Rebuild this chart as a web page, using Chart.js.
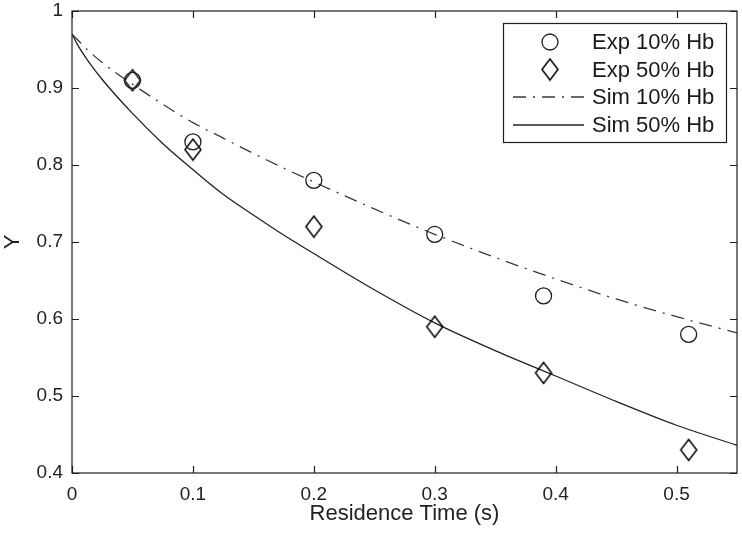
<!DOCTYPE html>
<html>
<head>
<meta charset="utf-8">
<script src="https://cdn.jsdelivr.net/npm/chart.js@4"></script>
<style>
  body { margin: 0; background: #fff; }
  canvas { display: block; }
</style>
</head>
<body>
<canvas id="chart" width="742" height="534"></canvas>
<script>
// simulated curves
const simTime = [0, 0.005, 0.0125, 0.025, 0.05, 0.075, 0.1, 0.125, 0.15, 0.175, 0.2, 0.25, 0.3, 0.35, 0.4, 0.45, 0.5, 0.55];
const sim10 = [0.97, 0.962, 0.95, 0.933, 0.905, 0.879, 0.855, 0.835, 0.815, 0.796, 0.778, 0.743, 0.71, 0.68, 0.652, 0.626, 0.603, 0.582];
const sim50 = [0.97, 0.955, 0.937, 0.911, 0.867, 0.828, 0.794, 0.762, 0.735, 0.709, 0.685, 0.638, 0.595, 0.559, 0.526, 0.493, 0.462, 0.436];

// experimental points
const expTime = [0.05, 0.1, 0.2, 0.3, 0.39, 0.51];
const exp10 = [0.91, 0.83, 0.78, 0.71, 0.63, 0.58];
const exp50 = [0.91, 0.82, 0.72, 0.59, 0.53, 0.43];

const xTicks = [0, 0.1, 0.2, 0.3, 0.4, 0.5];
const yTicks = [0.4, 0.5, 0.6, 0.7, 0.8, 0.9, 1];

const FONT = "'Liberation Sans', Arial, sans-serif";
const INK = "#1e1e1e";

function pairs(xs, ys) {
  return xs.map((x, i) => ({ x: x, y: ys[i] }));
}

// matlab style diamond, a bit taller than wide
function diamond() {
  const c = document.createElement("canvas");
  c.width = 20;
  c.height = 24;
  const g = c.getContext("2d");
  g.strokeStyle = "#000";
  g.lineWidth = 1.5;
  g.beginPath();
  g.moveTo(10, 1.5);
  g.lineTo(18, 12);
  g.lineTo(10, 22.5);
  g.lineTo(2, 12);
  g.closePath();
  g.stroke();
  return c;
}
const diamondImg = diamond();

// box, inner ticks and legend drawn like the matlab figure
const frame = {
  id: "frame",
  afterDatasetsDraw(chart) {
    const { ctx, chartArea: a, scales } = chart;
    ctx.save();
    ctx.strokeStyle = INK;
    ctx.lineWidth = 1.2;
    ctx.strokeRect(a.left, a.top, a.right - a.left, a.bottom - a.top);
    const t = 7;
    ctx.beginPath();
    xTicks.forEach((v) => {
      const px = Math.round(scales.x.getPixelForValue(v)) + 0.5;
      ctx.moveTo(px, a.bottom);
      ctx.lineTo(px, a.bottom - t);
      ctx.moveTo(px, a.top);
      ctx.lineTo(px, a.top + t);
    });
    yTicks.forEach((v) => {
      const py = Math.round(scales.y.getPixelForValue(v)) + 0.5;
      ctx.moveTo(a.left, py);
      ctx.lineTo(a.left + t, py);
      ctx.moveTo(a.right, py);
      ctx.lineTo(a.right - t, py);
    });
    ctx.stroke();

    // legend
    const bx = 503, by = 23, bw = 223, bh = 119;
    ctx.fillStyle = "#fff";
    ctx.fillRect(bx, by, bw, bh);
    ctx.strokeStyle = INK;
    ctx.lineWidth = 1.2;
    ctx.strokeRect(bx + 0.5, by + 0.5, bw, bh);
    const rows = [42, 69.5, 97, 125];
    ctx.font = "22px " + FONT;
    ctx.textBaseline = "middle";
    ctx.textAlign = "left";
    chart.data.datasets.forEach((ds, i) => {
      const y = rows[i];
      if (ds.showLine) {
        ctx.save();
        ctx.strokeStyle = ds.borderColor;
        ctx.lineWidth = ds.borderWidth;
        ctx.setLineDash(ds.borderDash || []);
        ctx.beginPath();
        ctx.moveTo(513, y);
        ctx.lineTo(584, y);
        ctx.stroke();
        ctx.restore();
      } else if (ds.pointStyle === "circle") {
        ctx.beginPath();
        ctx.lineWidth = ds.borderWidth;
        ctx.arc(550, y, ds.pointRadius, 0, Math.PI * 2);
        ctx.stroke();
      } else {
        ctx.drawImage(diamondImg, 550 - 10, y - 12);
      }
      ctx.fillStyle = "#1a1a1a";
      ctx.fillText(ds.label, 592, y + 1);
    });
    ctx.restore();
  },
};

function fmt(v) {
  return String(Number(v.toFixed(2)));
}

new Chart(document.getElementById("chart"), {
  type: "scatter",
  data: {
    datasets: [
      {
        label: "Exp 10% Hb",
        data: pairs(expTime, exp10),
        pointStyle: "circle",
        pointRadius: 8,
        pointHoverRadius: 8,
        borderColor: INK,
        backgroundColor: "rgba(0,0,0,0)",
        borderWidth: 1.3,
        showLine: false,
      },
      {
        label: "Exp 50% Hb",
        data: pairs(expTime, exp50),
        pointStyle: diamondImg,
        pointRadius: 10,
        borderColor: INK,
        backgroundColor: "rgba(0,0,0,0)",
        showLine: false,
      },
      {
        label: "Sim 10% Hb",
        data: pairs(simTime, sim10),
        showLine: true,
        pointRadius: 0,
        borderColor: "#3a3a3a",
        borderWidth: 1.3,
        borderDash: [13, 7, 2, 7],
        cubicInterpolationMode: "monotone",
        fill: false,
      },
      {
        label: "Sim 50% Hb",
        data: pairs(simTime, sim50),
        showLine: true,
        pointRadius: 0,
        borderColor: "#222",
        borderWidth: 1.3,
        cubicInterpolationMode: "monotone",
        fill: false,
      },
    ],
  },
  options: {
    responsive: false,
    animation: false,
    devicePixelRatio: 1,
    layout: { autoPadding: false, padding: { left: 0, right: 5, top: 11, bottom: 0 } },
    plugins: { legend: { display: false }, tooltip: { enabled: false } },
    scales: {
      x: {
        type: "linear",
        min: 0,
        max: 0.55,
        grid: { display: false, drawTicks: false },
        border: { display: false },
        ticks: {
          stepSize: 0.1,
          includeBounds: false,
          padding: 10,
          maxRotation: 0,
          color: "#222",
          font: { family: FONT, size: 19 },
          callback: fmt,
        },
        title: {
          display: true,
          text: "Residence Time (s)",
          color: "#222",
          font: { family: FONT, size: 22 },
          padding: { top: 0, bottom: 7 },
        },
        afterFit(scale) {
          scale.height = 61;
          scale.paddingLeft = 0;
          scale.paddingRight = 0;
        },
      },
      y: {
        type: "linear",
        min: 0.4,
        max: 1,
        grid: { display: false, drawTicks: false },
        border: { display: false },
        ticks: {
          stepSize: 0.1,
          padding: 9,
          color: "#222",
          font: { family: FONT, size: 19 },
          callback: fmt,
        },
        title: {
          display: true,
          text: "Y",
          color: "#222",
          font: { family: FONT, size: 22 },
          padding: { top: 0, bottom: 0 },
        },
        afterFit(scale) {
          scale.width = 72;
          scale.paddingTop = 0;
          scale.paddingBottom = 0;
        },
      },
    },
  },
  plugins: [frame],
});
</script>
</body>
</html>
